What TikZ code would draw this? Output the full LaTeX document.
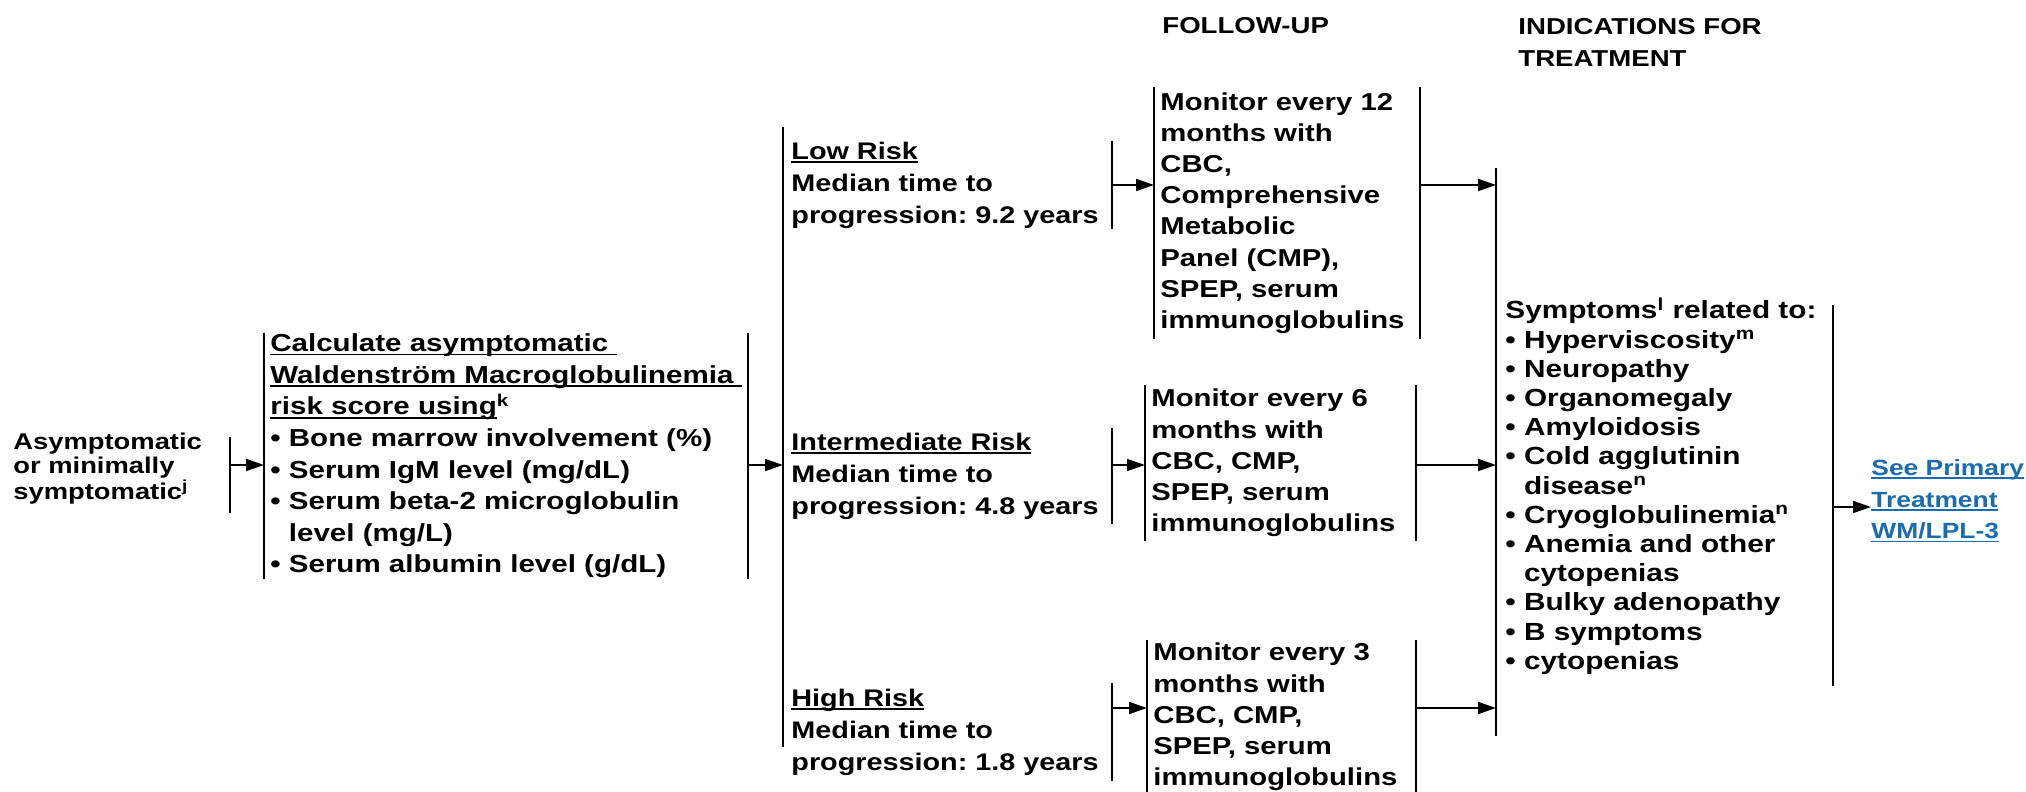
\documentclass[tikz,border=0pt]{standalone}
\usepackage{fontspec}
\setmainfont{Liberation Sans}
\newfontfamily\wmfont[FakeStretch=1.2]{Liberation Sans}
\usetikzlibrary{arrows.meta}
\definecolor{linkblue}{HTML}{1A6BAF}
\frenchspacing

\newsavebox{\ulnbox}
\newcommand{\uln}[1]{\leavevmode\sbox{\ulnbox}{#1}\rlap{\rule[-1.8pt]{\wd\ulnbox}{0.9pt}}\usebox{\ulnbox}}

\tikzset{
  txt/.style={font={\wmfont\bfseries\fontsize{12}{16}\selectfont}, align=left, inner ysep=0pt},
  box/.style={txt, anchor=west, inner xsep=3pt},
  arr/.style={-{Triangle[length=9pt,width=6pt]}, line width=0.85pt},
  bar/.style={line width=1pt},
}

\begin{document}
\begin{tikzpicture}[x=0.5pt,y=-0.5pt]
    \useasboundingbox (0,0) rectangle (2026,792);

    % headings
    \node[txt, anchor=west, inner sep=0pt, font={\wmfont\bfseries\fontsize{11.5}{16}\selectfont}] (hfu) at (1162,26) {FOLLOW-UP};
    \node[txt, anchor=west, inner sep=0pt, font={\wmfont\bfseries\fontsize{11.5}{16}\selectfont}] (hind) at (1518,42) {INDICATIONS FOR\\TREATMENT};

    \node[txt, anchor=west, inner sep=0pt, font={\wmfont\bfseries\fontsize{11.4}{11.8}\selectfont}] (start) at (13,469) {Asymptomatic\\or minimally\\symptomatic\textsuperscript{j}};
    \coordinate (sb) at (230,465);
    \draw[bar] (230,437) -- (230,513);

    \node[box, text width=235.5pt, minimum height=123pt, font={\wmfont\bfseries\fontsize{12.3}{15.8}\selectfont}] (calc) at (264,456) {\uln{Calculate asymptomatic }\\\uln{Waldenström Macroglobulinemia }\\\uln{risk score using}\textsuperscript{k}\\• Bone marrow involvement (\%)\\• Serum IgM level (mg/dL)\\• Serum beta-2 microglobulin\\\phantom{• }level (mg/L)\\• Serum albumin level (g/dL)};
    \draw[bar] (calc.north west) -- (calc.south west) (calc.north east) -- (calc.south east);

    % risk groups
    \coordinate (bbtop) at (783,127);
    \coordinate (bbbot) at (783,747);
    \draw[bar] (bbtop) -- (bbbot);
    \node[box, inner xsep=4pt, text width=156pt, minimum height=42.5pt] (lowrisk) at (783,185) {\uln{Low Risk}\\Median time to\\progression: 9.2 years};
    \node[box, inner xsep=4pt, text width=156pt, minimum height=48pt] (midrisk) at (783,476) {\uln{Intermediate Risk}\\Median time to\\progression: 4.8 years};
    \node[box, inner xsep=4pt, text width=156pt, minimum height=48.5pt] (highrisk) at (783,732) {\uln{High Risk}\\Median time to\\progression: 1.8 years};
    \foreach \n in {lowrisk,midrisk,highrisk}
        \draw[bar] (\n.north east) -- (\n.south east);

    % follow-up
    \tikzset{fu/.style={box, font={\wmfont\bfseries\fontsize{12.2}{15.6}\selectfont}}}
    \node[fu, text width=126.5pt, minimum height=126pt] (fu12) at (1154,213) {Monitor every 12\\months with\\CBC,\\Comprehensive\\Metabolic\\Panel (CMP),\\SPEP, serum\\immunoglobulins};
    \node[fu, text width=129pt, minimum height=77.5pt] (fu6) at (1145,463) {Monitor every 6\\months with\\CBC, CMP,\\SPEP, serum\\immunoglobulins};
    \node[fu, text width=128pt, minimum height=77pt] (fu3) at (1147,717) {Monitor every 3\\months with\\CBC, CMP,\\SPEP, serum\\immunoglobulins};
    \foreach \n in {fu12,fu6,fu3}
        \draw[bar] (\n.north west) -- (\n.south west) (\n.north east) -- (\n.south east);

    % indications
    \node[box, inner xsep=4.5pt, text width=159pt, font={\wmfont\bfseries\fontsize{12.4}{14.6}\selectfont}] (ind) at (1496,486) {Symptoms\textsuperscript{l} related to:\\• Hyperviscosity\textsuperscript{m}\\• Neuropathy\\• Organomegaly\\• Amyloidosis\\• Cold agglutinin\\\phantom{• }disease\textsuperscript{n}\\• Cryoglobulinemia\textsuperscript{n}\\• Anemia and other\\\phantom{• }cytopenias\\• Bulky adenopathy\\• B symptoms\\• cytopenias};
    \draw[bar] (ind.west |- 0,168) -- (ind.west |- 0,736);
    \draw[bar] (ind.east |- 0,305) -- (ind.east |- 0,686);

    \node[txt, anchor=west, inner sep=0pt, text=linkblue, font={\wmfont\bfseries\fontsize{11}{15.8}\selectfont}] (seeprim) at (1871,501) {\uln{See Primary}\\\uln{Treatment}\\\uln{WM/LPL-3}};

    % arrows
    \coordinate (hy) at (0,708);
    \coordinate (sy) at (0,507);
    \draw[arr] (sb) -- (sb -| calc.west);
    \draw[arr] (calc.east |- sb) -- (bbtop |- sb);
    \draw[arr] (lowrisk.east) -- (lowrisk.east -| fu12.west);
    \draw[arr] (midrisk.east |- sb) -- (fu6.west |- sb);
    \draw[arr] (highrisk.east |- hy) -- (fu3.west |- hy);
    \draw[arr] (fu12.east |- lowrisk.east) -- (ind.west |- lowrisk.east);
    \draw[arr] (fu6.east |- sb) -- (ind.west |- sb);
    \draw[arr] (fu3.east |- hy) -- (ind.west |- hy);
    \draw[arr] (ind.east |- sy) -- (seeprim.west |- sy);
\end{tikzpicture}
\end{document}
